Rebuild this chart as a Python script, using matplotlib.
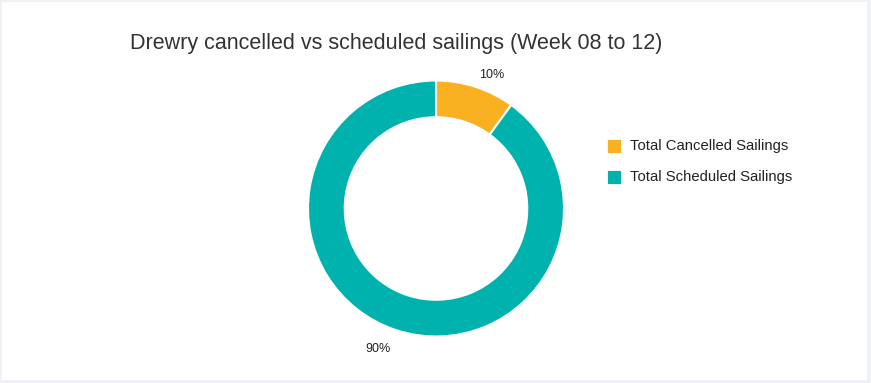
import numpy as np
import matplotlib.pyplot as plt
from matplotlib.patches import Rectangle

# data
labels = ['Total Cancelled Sailings', 'Total Scheduled Sailings']
shares = [10, 90]
colors = ['#F9B122', '#00B2AE']
title = 'Drewry cancelled vs scheduled sailings (Week 08 to 12)'

W, H = 871, 383
fig = plt.figure(figsize=(W / 100, H / 100), dpi=100)
fig.patch.set_facecolor('#F0F1F6')
plt.rcParams['font.family'] = ['Liberation Sans', 'DejaVu Sans']

# white panel
fig.patches.append(Rectangle((2 / W, 3 / H), 865 / W, 378 / H,
                             transform=fig.transFigure, facecolor='white',
                             edgecolor='none', zorder=-5))

# donut axes: center (436, 208.5) px, radius 129 px
cx, cy, r = 436, 208.5, 129
half = 160
ax = fig.add_axes([(cx - half) / W, (H - cy - half) / H, 2 * half / W, 2 * half / H])
ax.set_zorder(1)
ax.patch.set_visible(False)
ax.set_xlim(-half / r, half / r)
ax.set_ylim(-half / r, half / r)
ax.set_aspect('equal')
ax.axis('off')

wedges, _ = ax.pie(shares, colors=colors, startangle=90, counterclock=False,
                   radius=1, wedgeprops=dict(width=0.287, edgecolor='white', linewidth=1.5))

# percentage labels outside the ring
for w, s in zip(wedges, shares):
    ang = np.deg2rad((w.theta1 + w.theta2) / 2 - 4.5)
    d = 1.13 if s < 50 else 1.19
    ax.text(d * np.cos(ang), d * np.sin(ang), f'{s}%', ha='center', va='center',
            fontsize=9, color='#222222')

fig.text(130 / W, 1 - 43 / H, title, ha='left', va='center', fontsize=15.5, color='#333333')

# legend
for i, (lab, c) in enumerate(zip(labels, colors)):
    y = 145.5 + i * 31
    fig.patches.append(Rectangle((607 / W, 1 - (y + 7) / H), 14 / W, 14 / H,
                                 transform=fig.transFigure, facecolor=c,
                                 edgecolor='white', linewidth=0.6, zorder=2))
    fig.text(630 / W, 1 - y / H, lab, ha='left', va='center', fontsize=10.7, color='#222222')

fig.savefig('out.png', dpi=100, facecolor=fig.get_facecolor())
